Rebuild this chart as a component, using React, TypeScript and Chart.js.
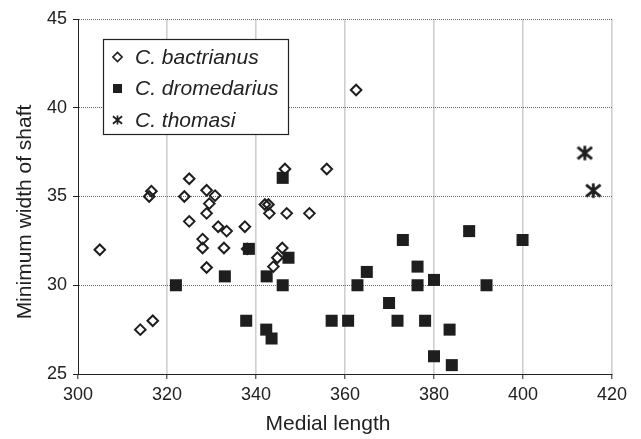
import React, { useEffect, useRef } from 'react';
import { Chart, registerables } from 'chart.js';

Chart.register(...registerables);

// ---- data ----
const seriesNames = ['C. bactrianus', 'C. dromedarius', 'C. thomasi'];

const bactrianusX = [304.9, 314.0, 316.8, 316.0, 316.5, 323.9, 325.0, 325.0, 328.0, 328.0, 328.9, 328.9, 329.5, 328.9, 330.8, 331.5, 333.4, 332.8, 337.5, 338.0, 342.0, 342.8, 343.0, 343.9, 344.8, 345.9, 346.5, 346.9, 352.0, 355.9, 362.5];
const bactrianusY = [32.0, 27.5, 28.0, 35.0, 35.3, 35.0, 36.0, 33.6, 32.6, 32.1, 31.0, 34.05, 34.6, 35.35, 35.05, 33.3, 33.05, 32.1, 33.3, 32.05, 34.55, 34.55, 34.05, 31.05, 31.55, 32.1, 36.55, 34.05, 34.05, 36.55, 41.0];

const dromedariusX = [322.0, 333.0, 338.4, 337.8, 342.4, 342.3, 343.5, 346.0, 346.0, 347.3, 357.0, 360.7, 362.8, 364.9, 369.9, 371.8, 373.0, 376.3, 376.3, 378.0, 380.0, 380.0, 383.5, 384.0, 387.9, 391.8, 399.9];
const dromedariusY = [30.0, 30.5, 32.05, 28.0, 30.5, 27.5, 27.0, 36.05, 30.0, 31.55, 28.0, 28.0, 30.0, 30.75, 29.0, 28.0, 32.55, 31.05, 30.0, 28.0, 30.3, 26.0, 27.5, 25.5, 33.05, 30.0, 32.55];

const thomasiX = [413.9, 415.8];
const thomasiY = [37.45, 35.33];

const xTickValues = [300, 320, 340, 360, 380, 400, 420];
const yTickValues = [25, 30, 35, 40, 45];

const xTitle = 'Medial length';
const yTitle = 'Minimum width of shaft';

const FONT = '"Liberation Sans", Arial, Helvetica, sans-serif';
const INK = '#1e1e1e';

function toPoints(xs: number[], ys: number[]) {
  return xs.map((x, i) => ({ x, y: ys[i] }));
}

function drawStar(g: CanvasRenderingContext2D, cx: number, cy: number, a: number, lw: number) {
  g.save();
  g.strokeStyle = INK;
  g.lineWidth = lw;
  g.beginPath();
  g.moveTo(cx, cy - a);
  g.lineTo(cx, cy + a);
  g.moveTo(cx - a, cy - a * 0.82);
  g.lineTo(cx + a, cy + a * 0.82);
  g.moveTo(cx + a, cy - a * 0.82);
  g.lineTo(cx - a, cy + a * 0.82);
  g.stroke();
  g.restore();
}

function makeStarCanvas(size: number, lw: number) {
  const c = document.createElement('canvas');
  c.width = size;
  c.height = size;
  const g = c.getContext('2d') as CanvasRenderingContext2D;
  drawStar(g, size / 2, size / 2, size / 2 - 1.3, lw);
  return c;
}

const boxLegend = {
  id: 'boxLegend',
  afterDatasetsDraw(chart: any) {
    const ctx = chart.ctx as CanvasRenderingContext2D;
    const left = 103, top = 39, w = 185, h = 95;
    ctx.save();
    ctx.fillStyle = '#ffffff';
    ctx.fillRect(left, top, w, h);
    ctx.strokeStyle = '#222';
    ctx.lineWidth = 1.2;
    ctx.strokeRect(left + 0.5, top + 0.5, w, h);
    const rows = [57, 88.5, 120];
    const mx = 117.5;
    // diamond
    ctx.beginPath();
    ctx.moveTo(mx, rows[0] - 4.6);
    ctx.lineTo(mx + 4.6, rows[0]);
    ctx.lineTo(mx, rows[0] + 4.6);
    ctx.lineTo(mx - 4.6, rows[0]);
    ctx.closePath();
    ctx.strokeStyle = INK;
    ctx.lineWidth = 1.6;
    ctx.stroke();
    // square
    ctx.fillStyle = INK;
    ctx.fillRect(mx - 4.5, rows[1] - 4.5, 9, 9);
    // star
    drawStar(ctx, mx, rows[2], 4.6, 1.7);
    ctx.fillStyle = '#222';
    ctx.font = 'italic 21px ' + FONT;
    ctx.textAlign = 'left';
    ctx.textBaseline = 'middle';
    seriesNames.forEach((n, i) => ctx.fillText(n, 135, rows[i] + 1));
    ctx.restore();
  },
};

const axisTitles = {
  id: 'axisTitles',
  afterDraw(chart: any) {
    const ctx = chart.ctx as CanvasRenderingContext2D;
    ctx.save();
    ctx.fillStyle = '#222';
    ctx.font = '21px ' + FONT;
    ctx.textAlign = 'center';
    ctx.textBaseline = 'middle';
    ctx.fillText(xTitle, 328, 424);
    ctx.translate(25, 212);
    ctx.rotate(-Math.PI / 2);
    ctx.fillText(yTitle, 0, 0);
    ctx.restore();
  },
};

export default function App() {
  const ref = useRef<HTMLCanvasElement>(null);

  useEffect(() => {
    if (!ref.current) return;
    const star = makeStarCanvas(17, 2.8);
    const chart = new Chart(ref.current, {
      type: 'scatter',
      data: {
        datasets: [
          {
            label: seriesNames[0],
            data: toPoints(bactrianusX, bactrianusY),
            pointStyle: 'rectRot',
            pointRadius: 5.3,
            pointBorderWidth: 2,
            borderColor: INK,
            backgroundColor: 'rgba(0,0,0,0)',
          },
          {
            label: seriesNames[1],
            data: toPoints(dromedariusX, dromedariusY),
            pointStyle: 'rect',
            pointRadius: 8.5,
            pointBorderWidth: 0,
            borderColor: INK,
            backgroundColor: INK,
          },
          {
            label: seriesNames[2],
            data: toPoints(thomasiX, thomasiY),
            pointStyle: star as any,
            pointRadius: 8,
            borderColor: INK,
            backgroundColor: INK,
          },
        ],
      } as any,
      options: {
        responsive: false,
        animation: false,
        devicePixelRatio: 1,
        clip: false as any,
        layout: { padding: { top: 19, right: 29, left: 0, bottom: 0 } },
        plugins: {
          legend: { display: false },
          tooltip: { enabled: false },
        },
        scales: {
          x: {
            type: 'linear',
            min: xTickValues[0],
            max: xTickValues[xTickValues.length - 1],
            afterBuildTicks: (s: any) => {
              s.ticks = xTickValues.map((v) => ({ value: v }));
            },
            ticks: {
              font: { family: FONT, size: 18 },
              color: '#222',
              padding: 5,
              maxRotation: 0,
            },
            grid: {
              color: (c: any) => (c.tick && c.tick.value === xTickValues[0] ? 'rgba(0,0,0,0)' : '#cfcfcf'),
              lineWidth: 1.6,
              tickLength: 5,
              tickColor: '#222',
              tickWidth: 1,
            },
            border: { color: '#222', width: 1 },
            afterFit: (s: any) => {
              s.height = 65;
              s.paddingLeft = 0;
              s.paddingRight = 0;
            },
          },
          y: {
            type: 'linear',
            min: yTickValues[0],
            max: yTickValues[yTickValues.length - 1],
            afterBuildTicks: (s: any) => {
              s.ticks = yTickValues.map((v) => ({ value: v }));
            },
            ticks: {
              font: { family: FONT, size: 18 },
              color: '#222',
              padding: 6,
            },
            grid: {
              color: (c: any) => (c.tick && c.tick.value === yTickValues[0] ? 'rgba(0,0,0,0)' : '#666'),
              lineWidth: 1,
              tickLength: 5,
              tickColor: '#222',
              tickWidth: 1,
            },
            border: { color: '#222', width: 1, dash: [1, 1] },
            afterFit: (s: any) => {
              s.width = 78;
              s.paddingTop = 0;
              s.paddingBottom = 0;
            },
          },
        },
      } as any,
      plugins: [boxLegend, axisTitles],
    });
    return () => chart.destroy();
  }, []);

  return (
    <div style={{ position: 'fixed', left: 0, top: 0, width: 641, height: 439, background: '#fff' }}>
      <canvas ref={ref} width={641} height={439} style={{ display: 'block', width: 641, height: 439 }} />
    </div>
  );
}
